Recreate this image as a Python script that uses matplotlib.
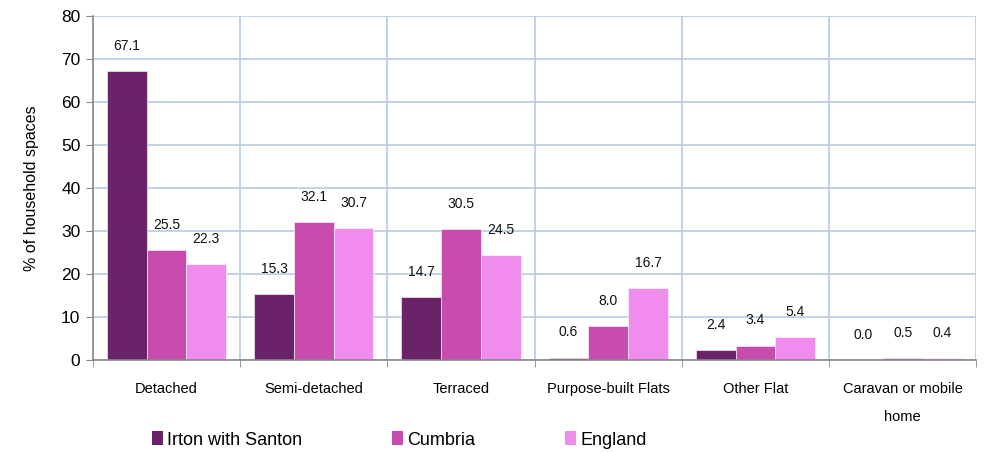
import matplotlib
matplotlib.use("Agg")
import matplotlib.pyplot as plt
import numpy as np
from matplotlib.patches import Patch

categories = ["Detached", "Semi-detached", "Terraced", "Purpose-built Flats", "Other Flat", "Caravan or mobile\nhome"]
series_names = ["Irton with Santon", "Cumbria", "England"]
irton = [67.1, 15.3, 14.7, 0.6, 2.4, 0.0]
cumbria = [25.5, 32.1, 30.5, 8.0, 3.4, 0.5]
england = [22.3, 30.7, 24.5, 16.7, 5.4, 0.4]
colors = ["#6A2368", "#C84BAE", "#F08CEE"]

plt.rcParams['font.family'] = ['Liberation Sans', 'DejaVu Sans']
fig = plt.figure(figsize=(9.87, 4.53), dpi=100)
ax = fig.add_axes([0.0942, 0.205, 0.895, 0.76])

x = np.arange(len(categories))
w = 0.27
for i, (vals, c) in enumerate(zip([irton, cumbria, england], colors)):
    pos = x + (i - 1) * w
    ax.bar(pos, vals, width=w, color=c, zorder=3, edgecolor='white', linewidth=0.4)
    for p, v in zip(pos, vals):
        ax.text(p, v + 4.2, f"{v:.1f}", ha='center', va='bottom', fontsize=10, color='#111111')

ax.set_xlim(-0.5, len(categories) - 0.5)
ax.set_ylim(0, 80)
ax.set_yticks(range(0, 81, 10))
ax.tick_params(axis='y', labelsize=12.5, length=5, color='#888888', direction='out', pad=4)
ax.set_xticks(x)
ax.set_xticklabels(categories, fontsize=10.5, linespacing=2.2)
ax.tick_params(axis='x', length=0, pad=16)
ax.set_xticks(np.arange(-0.5, len(categories), 1.0), minor=True)
ax.tick_params(axis='x', which='minor', length=5, color='#888888')
ax.grid(axis='y', color='#B8CCE4', linewidth=1.2, zorder=0)
ax.grid(axis='x', which='minor', color='#B8CCE4', linewidth=1.2, zorder=0)
ax.grid(axis='x', which='major', visible=False)
for s in ['top', 'right']:
    ax.spines[s].set_visible(False)
for s in ['left', 'bottom']:
    ax.spines[s].set_color('#888888')
    ax.spines[s].set_linewidth(1.2)
ax.spines['bottom'].set_zorder(4)
ax.set_ylabel("% of household spaces", fontsize=11.5, labelpad=16)

handles = [Patch(facecolor=c) for c in colors]
fig.legend(handles, series_names, loc='center left', bbox_to_anchor=(0.154, 1 - 440 / 453), ncol=3,
           frameon=False, prop={'size': 13},
           handlelength=0.6, handleheight=0.8, handletextpad=0.22, borderpad=0, borderaxespad=0,
           columnspacing=5)

fig.savefig("out.png", dpi=100)
